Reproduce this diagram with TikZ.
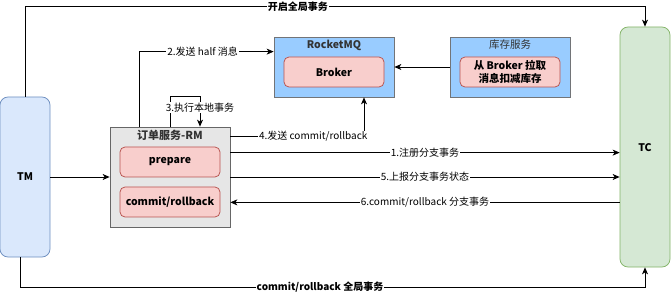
\documentclass[tikz,border=0pt]{standalone}
\usepackage{fontspec}
\setmainfont{Noto Sans CJK SC}
\usetikzlibrary{arrows.meta,positioning,calc}
\definecolor{txInk}{HTML}{000000}
\definecolor{txTMFill}{HTML}{DAE8FC}
\definecolor{txTMLine}{HTML}{6C8EBF}
\definecolor{txTCFill}{HTML}{D5E8D4}
\definecolor{txTCLine}{HTML}{82B366}
\definecolor{txRMFill}{HTML}{E6E6E6}
\definecolor{txRMLine}{HTML}{666666}
\definecolor{txPink}{HTML}{F8CECC}
\definecolor{txPinkLine}{HTML}{B85450}
\definecolor{txSky}{HTML}{99CCFF}
\definecolor{txSkyLine}{HTML}{36393D}
\tikzset{
  box/.style      ={draw,line width=0.75pt,align=center,inner sep=2pt,
                    font=\fontsize{10.5}{13}\selectfont},
  tmbox/.style    ={box,rounded corners=8pt,fill=txTMFill,draw=txTMLine,
                    minimum width=50pt,minimum height=160pt,font=\fontsize{10.5}{13}\selectfont\bfseries},
  tcbox/.style    ={box,rounded corners=8pt,fill=txTCFill,draw=txTCLine,
                    minimum width=50pt,minimum height=240pt,font=\fontsize{10.5}{13}\selectfont\bfseries},
  rmbox/.style    ={box,fill=txRMFill,draw=txRMLine,minimum width=120pt,minimum height=100pt},
  mqbox/.style    ={box,fill=txSky,draw=txSkyLine!70,minimum width=120pt,minimum height=60pt},
  partbox/.style  ={box,rounded corners=5pt,fill=txPink,draw=txPinkLine,
                    minimum width=100pt,minimum height=30pt,font=\fontsize{10.5}{13}\selectfont\bfseries},
  ttl/.style      ={font=\fontsize{10.5}{13}\selectfont,text=txInk!80,inner sep=1pt},
  flow/.style     ={-{Stealth[length=7pt,width=6pt,inset=2pt]},txInk,line width=0.75pt},
  elbl/.style     ={font=\fontsize{10}{12}\selectfont,text=txInk,fill=white,inner sep=1pt},
  blbl/.style     ={elbl,font=\fontsize{10}{12}\selectfont\bfseries},
}
\begin{document}
\begin{tikzpicture}[x=1pt,y=-1pt]
\useasboundingbox (0,0) rectangle (671,296);
% ── global actors ──────────────────────────────────────────────────────────
\node[tmbox] (tm) at (25,177) {TM};
\node[tcbox] (tc) at (645,147) {};
\node[font=\fontsize{10.5}{13}\selectfont\bfseries] (tclbl) at (645,148) {TC};

% ── order service (RM) ─────────────────────────────────────────────────────
\node[rmbox] (rm) at (170,177) {};
\node[ttl,font=\fontsize{11}{13}\selectfont\bfseries] (rmttl) at (170,135) {订单服务-RM};
\node[partbox] (prep) at (170,162) {prepare};
\node[partbox] (cmt) at (170,202) {commit/rollback};

% ── RocketMQ & stock service ───────────────────────────────────────────────
\node[mqbox] (mq) at (334,67) {};
\node[ttl,font=\fontsize{10.5}{13}\selectfont\bfseries] (mqttl) at (334,45) {RocketMQ};
\node[partbox] (broker) at (334,72) {Broker};
\node[mqbox] (stock) at (510,67) {};
\node[ttl] (stockttl) at (510,45) {库存服务};
\node[partbox,font=\fontsize{10.5}{13}\selectfont\bfseries] (pull) at (510,72) {从 Broker 拉取\\消息扣减库存};

% ── global transaction ─────────────────────────────────────────────────────
\draw[flow] (tm.north) |- node[blbl,pos=0.72]{开启全局事务} ($(tc.north)+(0,-20)$) -- (tc.north);
\draw[flow] ($(tm.south)+(-5,0)$) |- node[blbl,pos=0.74]{commit/rollback 全局事务}
  ($(tc.south)+(0,20)$) -- (tc.south);
\draw[flow] (tm.east) -- (rm.west);

% ── messages ───────────────────────────────────────────────────────────────
\draw[flow] ($(rm.north west)+(30,0)$) |- node[elbl,pos=0.735]{2.发送 half 消息} ($(mq.north west)+(0,15)$);
\draw[flow] (rm.north) -- ++(0,-30) -| node[elbl,pos=0.68]{3.执行本地事务} ($(rm.north)+(30,0)$);
\draw[flow] ($(rm.north east)+(0,10)$) -| node[elbl,pos=0.31]{4.发送 commit/rollback} ($(mq.south)+(30,0)$);
\draw[flow] (stock.west) -- (mq.east);

% ── branch transactions ────────────────────────────────────────────────────
\draw[flow] ($(rm.north east)+(0,26)$) coordinate (s1) -- node[elbl]{1.注册分支事务} (s1 -| tc.west);
\draw[flow] (rm.east) -- node[elbl]{5.上报分支事务状态} (rm.east -| tc.west);
\draw[flow] ($(rm.south east)+(0,-25)$) coordinate (s6) (s6 -| tc.west) -- node[elbl]{6.commit/rollback 分支事务} (s6);
\end{tikzpicture}
\end{document}
